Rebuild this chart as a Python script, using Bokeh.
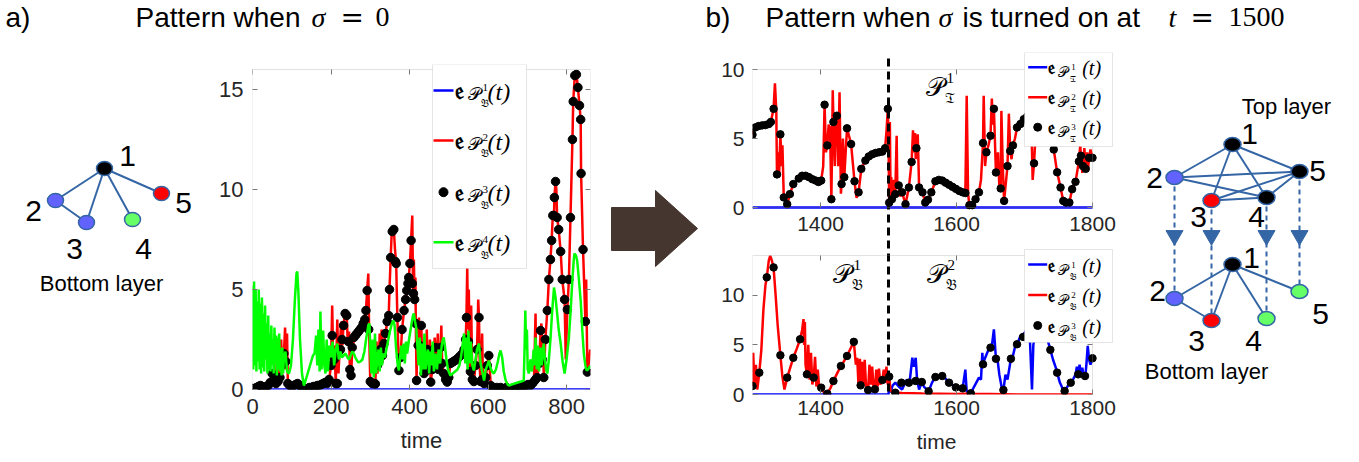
from bokeh.plotting import figure
from bokeh.layouts import row, column
from bokeh.models import Range1d, Label, BoxAnnotation, Arrow, FixedTicker, LinearAxis
from bokeh.embed import file_html
from bokeh.resources import INLINE

# ---------------- panel a data (time, value) ----------------
a_blue_pts = [(0, 0.0), (860, 0.0)]
a_dot_pts = [(0,0.05),(5,0.05),(10,0.1),(15,0.15),(20,0.2),(25,0.15),(30,0.1),(35,0.15),(40,0.2),(45,0.35),(50,0.8),(55,0.5),(60,0.3),(65,0.4),(70,0.6),(75,1.2),(80,1.8),(85,1.4),(90,0.3),(95,0.2),(100,0.15),(105,0.2),(110,0.25),(115,0.3),(120,0.2),(125,0.1),(130,0.05),(135,0.05),(140,0.05),(145,0.1),(150,0.1),(155,0.15),(160,0.15),(165,0.2),(170,0.2),(175,0.25),(180,0.3),(185,0.35),(190,0.3),(195,0.5),(200,1.2),(203,2.7),(208,1.5),(212,0.3),(216,0.3),(220,1.9),(224,2.0),(228,2.5),(232,3.2),(236,3.8),(240,3.7),(244,2.4),(248,1.0),(251,0.7),(254,2.1),(258,2.6),(262,2.7),(266,2.8),(270,2.9),(274,3.0),(278,3.1),(282,3.3),(286,3.5),(289,3.95),(292,4.95),(296,3.0),(300,0.4),(305,0.3),(310,0.3),(313,0.28),(318,1.2),(322,1.4),(326,2.0),(331,1.7),(335,2.3),(339,2.8),(343,3.4),(347,3.7),(349,5.0),(352,6.6),(356,7.9),(360,8.0),(364,6.4),(366,6.3),(369,3.6),(373,0.95),(377,1.6),(381,3.0),(386,3.95),(390,4.5),(393,4.95),(396,5.3),(398,5.6),(401,6.3),(404,7.45),(407,5.3),(410,4.8),(413,4.5),(416,3.3),(418,0.45),(422,2.2),(426,2.2),(430,3.2),(434,1.5),(437,0.8),(441,1.6),(445,2.0),(449,1.0),(454,0.37),(458,1.0),(462,1.6),(466,2.1),(470,1.5),(474,1.0),(479,2.1),(483,1.3),(487,0.8),(492,0.5),(496,0.37),(500,0.6),(504,1.3),(508,1.35),(512,1.4),(516,1.45),(520,1.5),(525,1.6),(530,1.7),(535,1.8),(539,2.0),(543,2.5),(545,3.6),(550,2.4),(555,0.9),(560,0.5),(564,0.4),(568,1.2),(572,2.0),(577,3.6),(581,0.4),(585,0.5),(590,0.3),(594,0.6),(598,1.2),(602,1.7),(607,0.2),(612,0.1),(617,0.05),(622,0.1),(627,0.05),(632,0.1),(637,0.05),(642,0.05),(647,0.1),(652,0.0),(657,0.0),(662,0.05),(667,0.05),(672,0.05),(677,0.1),(682,0.1),(687,0.15),(692,0.15),(697,0.2),(702,0.25),(708,0.2),(713,0.3),(717,0.4),(721,0.5),(725,0.6),(730,1.3),(734,2.95),(738,1.5),(742,0.6),(746,2.5),(751,3.95),(755,5.5),(759,6.5),(762,7.45),(765,8.7),(768,8.7),(769,9.6),(772,10.4),(776,8.6),(780,8.0),(785,6.9),(789,5.5),(795,4.5),(802,4.0),(806,5.5),(810,8.6),(815,12.5),(817,14.4),(821,15.7),(825,15.75),(829,15.1),(833,14.2),(836,13.5),(837,10.8),(842,7.0),(848,3.4),(853,0.87)]
a_red_pts = [(0,0.05),(20,0.1),(40,0.15),(50,0.8),(55,0.3),(60,0.5),(63,2.0),(66,0.4),(70,1.0),(73,2.5),(76,0.8),(80,1.8),(83,3.1),(86,1.0),(88,2.8),(90,0.3),(95,0.2),(110,0.25),(120,0.2),(140,0.05),(170,0.2),(190,0.3),(196,0.6),(200,1.2),(203,4.2),(206,1.0),(209,2.2),(212,0.3),(216,3.5),(219,0.8),(222,2.0),(226,3.4),(229,2.2),(232,3.3),(236,3.8),(240,3.7),(243,2.2),(246,2.9),(248,1.0),(251,0.5),(254,2.1),(262,2.7),(274,3.0),(286,3.5),(289,3.95),(292,4.95),(295,5.8),(297,3.0),(300,0.4),(305,0.3),(309,0.4),(313,0.28),(316,2.4),(318,0.8),(322,1.4),(324,2.8),(326,2.0),(329,3.0),(331,1.7),(335,2.3),(339,2.8),(343,3.4),(347,3.7),(349,5.0),(352,6.6),(355,8.0),(357,7.9),(360,8.0),(363,7.0),(366,6.3),(369,3.6),(373,0.95),(377,1.6),(381,3.0),(386,3.95),(390,4.5),(393,4.95),(396,5.3),(398,5.6),(401,6.3),(404,7.45),(407,8.7),(409,5.0),(411,6.5),(413,4.5),(415,5.6),(416,3.3),(418,0.45),(420,3.5),(422,2.2),(424,3.6),(426,2.2),(428,3.2),(430,3.2),(432,1.5),(434,0.8),(437,0.8),(441,1.6),(444,3.0),(445,2.0),(449,1.0),(452,2.5),(454,0.37),(458,1.0),(462,1.6),(464,2.6),(466,2.1),(470,1.5),(472,2.8),(474,1.0),(479,2.1),(481,3.2),(483,1.3),(487,0.8),(492,0.5),(496,0.37),(500,0.6),(504,1.3),(520,1.5),(535,1.8),(539,2.0),(543,2.5),(545,3.6),(547,6.1),(549,3.0),(551,5.0),(553,2.0),(555,0.9),(557,4.2),(560,0.5),(564,0.4),(568,1.2),(572,2.0),(575,4.5),(577,3.6),(579,1.0),(581,0.4),(585,2.8),(587,0.5),(590,0.3),(594,0.6),(598,1.2),(602,1.7),(607,0.2),(650,0.0),(700,0.2),(713,0.3),(717,0.4),(721,3.8),(723,0.5),(725,0.6),(730,1.3),(734,2.95),(736,3.3),(738,1.5),(740,2.7),(742,0.6),(746,2.5),(751,3.95),(755,5.5),(759,6.5),(762,7.45),(765,8.7),(768,8.7),(769,9.6),(772,10.4),(774,10.0),(776,8.6),(780,8.0),(785,6.9),(789,5.5),(795,4.5),(798,1.5),(802,4.0),(806,5.5),(810,8.6),(815,12.5),(817,14.4),(821,15.7),(823,15.9),(825,15.75),(829,15.1),(833,14.2),(836,13.5),(837,10.8),(842,7.0),(848,3.4),(850,5.5),(853,0.87),(856,1.2),(860,2.0)]
a_green_pts = [(0,5.2),(2,1.0),(4,5.4),(6,1.2),(8,5.0),(10,0.9),(12,4.4),(14,1.4),(16,5.0),(18,1.0),(20,4.3),(22,0.8),(24,4.6),(26,1.1),(28,3.8),(30,0.9),(32,4.2),(34,1.5),(36,3.3),(38,0.8),(40,3.7),(42,1.0),(44,2.8),(46,0.9),(48,3.2),(50,1.2),(52,2.5),(54,0.8),(56,3.1),(58,1.3),(60,2.7),(62,0.7),(64,2.6),(66,1.0),(68,2.8),(70,0.9),(72,2.0),(74,0.7),(76,2.1),(78,0.8),(80,1.6),(84,1.9),(88,0.9),(93,0.8),(98,1.2),(103,2.5),(108,4.5),(112,5.8),(114,5.9),(117,4.8),(121,2.5),(126,0.8),(131,0.2),(136,0.5),(142,0.9),(148,1.3),(154,1.7),(158,1.8),(162,2.7),(165,1.2),(168,3.0),(171,0.9),(173,3.9),(176,1.0),(180,2.95),(183,1.2),(186,0.8),(189,2.5),(192,0.9),(196,2.2),(200,1.6),(204,2.4),(208,1.2),(212,2.0),(216,2.3),(220,1.5),(224,1.9),(228,1.6),(232,1.7),(237,1.8),(242,1.6),(246,1.5),(250,1.7),(254,1.9),(258,1.8),(262,1.6),(266,1.45),(270,1.35),(275,1.4),(280,1.5),(285,1.9),(290,2.6),(295,3.2),(298,3.3),(300,2.0),(303,0.8),(306,2.5),(309,0.6),(312,2.8),(315,0.8),(318,1.6),(321,2.0),(324,0.9),(327,2.1),(330,1.2),(333,1.8),(337,1.6),(341,2.0),(346,2.5),(350,2.9),(355,3.3),(359,3.45),(362,3.2),(366,2.0),(370,1.2),(373,0.95),(376,1.6),(379,2.2),(382,1.5),(385,2.3),(388,1.3),(391,2.4),(394,1.8),(398,2.4),(402,2.9),(406,3.4),(409,3.7),(411,3.8),(414,3.4),(417,3.1),(420,2.2),(423,1.2),(426,2.6),(429,0.7),(432,2.3),(435,1.0),(438,2.8),(441,1.0),(444,1.6),(447,2.0),(450,0.8),(453,1.9),(456,1.2),(459,2.4),(462,0.9),(466,1.8),(470,1.0),(474,2.0),(478,1.3),(482,2.2),(485,2.5),(487,2.6),(490,2.2),(494,1.5),(498,1.0),(504,0.7),(510,0.8),(516,0.9),(522,1.0),(527,1.2),(531,1.6),(535,2.2),(539,2.8),(542,1.3),(545,2.6),(548,1.0),(550,2.95),(553,1.3),(556,2.4),(560,1.2),(564,0.95),(568,1.5),(572,2.0),(577,2.3),(581,1.3),(585,0.9),(590,0.45),(594,1.0),(598,1.2),(602,1.45),(606,1.1),(610,0.9),(615,0.8),(620,1.0),(625,1.4),(629,1.8),(632,1.95),(636,1.6),(640,0.9),(645,0.45),(650,0.25),(653,0.2),(660,0.25),(668,0.3),(676,0.35),(684,0.4),(691,0.45),(693,2.0),(695,3.95),(697,2.0),(699,3.0),(701,1.0),(704,0.8),(708,1.5),(712,0.9),(716,2.0),(719,1.2),(721,2.6),(724,1.0),(727,2.2),(730,0.9),(734,2.1),(737,1.2),(740,2.0),(742,2.3),(745,1.5),(748,1.0),(751,0.8),(755,1.5),(759,2.5),(763,3.8),(768,5.1),(772,4.6),(776,3.8),(780,3.0),(785,2.3),(790,1.4),(795,0.8),(800,1.5),(806,2.6),(810,3.8),(814,5.2),(818,6.4),(820,6.8),(824,6.7),(827,6.45),(831,5.6),(836,4.45),(840,3.0),(844,1.8),(848,1.2),(851,0.95),(855,1.0),(860,1.2)]

# ---------------- panel b, top layer ----------------
bt_blue_pts = [(1300, 0.0), (1800, 0.0)]
bt_dot_pts = [(1300,5.28),(1304,5.8),(1309,5.9),(1314,5.95),(1319,5.97),(1324,6.05),(1327,6.2),(1331,7.15),(1336,2.4),(1341,5.3),(1346,0.73),(1351,0.24),(1355,0.97),(1360,1.7),(1368,2.1),(1373,2.3),(1378,2.3),(1383,2.2),(1388,2.05),(1393,1.95),(1397,1.85),(1401,1.95),(1406,7.45),(1410,4.5),(1416,0.6),(1419,6.2),(1424,6.65),(1431,1.7),(1435,2.2),(1439,5.74),(1445,4.6),(1450,1.9),(1456,1.1),(1460,2.8),(1466,3.4),(1471,3.7),(1476,3.85),(1481,3.95),(1486,4.0),(1491,4.05),(1495,4.3),(1499,7.15),(1501,0.35),(1505,0.6),(1510,0.97),(1515,1.6),(1520,1.1),(1525,0.24),(1530,1.45),(1534,3.3),(1541,4.3),(1545,1.45),(1550,1.1),(1554,0.36),(1558,0.56),(1563,1.1),(1569,1.9),(1574,2.0),(1579,1.95),(1584,1.8),(1589,1.65),(1594,1.5),(1599,1.35),(1604,1.2),(1609,1.1),(1613,1.05),(1619,0.17),(1623,0.17),(1628,0.6),(1633,1.1),(1639,4.67),(1644,4.0),(1650,5.2),(1655,7.15),(1658,2.54),(1665,1.38),(1670,0.48),(1675,3.0),(1679,4.1),(1683,4.5),(1689,5.8),(1694,6.05),(1699,6.4),(1704,6.6),(1709,6.9),(1714,3.2),(1720,6.0),(1726,7.0),(1732,6.5),(1738,5.5),(1743,4.2),(1748,2.55),(1753,1.45),(1757,0.48),(1761,0.36),(1766,0.36),(1770,1.33),(1775,1.86),(1780,3.34),(1783,3.75),(1786,3.0),(1790,2.8),(1795,3.6),(1800,3.6)]
bt_red_pts = [(1300,5.28),(1304,5.8),(1324,6.05),(1327,6.2),(1331,7.15),(1333,9.0),(1335,7.0),(1336,2.4),(1338,4.0),(1339,2.2),(1341,5.3),(1343,3.0),(1344,4.5),(1346,0.73),(1351,0.24),(1355,0.97),(1360,1.7),(1368,2.1),(1378,2.3),(1393,1.95),(1401,1.95),(1404,3.0),(1406,7.45),(1408,4.0),(1410,4.5),(1412,6.0),(1414,5.8),(1416,0.6),(1418,8.5),(1419,6.2),(1421,3.0),(1422,5.8),(1424,6.65),(1426,3.0),(1428,8.35),(1430,1.0),(1431,1.7),(1433,5.0),(1435,2.2),(1437,4.0),(1439,5.74),(1445,4.6),(1450,1.9),(1453,0.7),(1456,1.1),(1460,2.8),(1466,3.4),(1481,3.95),(1491,4.05),(1495,4.3),(1497,5.5),(1499,7.15),(1500,5.0),(1501,0.35),(1502,6.2),(1503,1.0),(1504,2.2),(1505,0.6),(1507,2.0),(1508,0.5),(1510,0.97),(1512,5.2),(1513,1.5),(1515,1.6),(1517,0.8),(1520,1.1),(1525,0.24),(1530,1.45),(1534,3.3),(1536,5.6),(1538,4.0),(1539,5.4),(1540,3.5),(1541,4.3),(1543,5.3),(1545,1.45),(1550,1.1),(1554,0.36),(1558,0.56),(1563,1.1),(1569,1.9),(1574,2.0),(1584,1.8),(1594,1.5),(1604,1.2),(1613,1.05),(1615,8.1),(1617,1.0),(1619,0.17),(1623,0.17),(1628,0.6),(1633,1.1),(1636,2.0),(1639,4.67),(1640,8.1),(1642,3.0),(1644,4.0),(1647,4.5),(1650,5.2),(1652,7.9),(1653,6.0),(1655,7.15),(1658,2.54),(1661,4.0),(1663,1.5),(1665,1.38),(1666,7.0),(1668,3.0),(1670,0.48),(1673,2.0),(1675,3.0),(1677,6.8),(1679,4.1),(1681,3.5),(1683,4.5),(1686,5.0),(1689,5.8),(1694,6.05),(1699,6.4),(1704,6.6),(1709,6.9),(1711,4.2),(1712,2.0),(1714,3.2),(1716,5.0),(1720,6.0),(1726,7.0),(1732,6.5),(1738,5.5),(1743,4.2),(1748,2.55),(1753,1.45),(1757,0.48),(1761,0.36),(1766,0.36),(1770,1.33),(1775,1.86),(1780,3.34),(1782,4.5),(1783,3.75),(1785,2.5),(1786,3.0),(1788,4.3),(1790,2.8),(1792,4.0),(1793,2.6),(1795,3.6),(1797,4.2),(1800,3.6)]

# ---------------- panel b, bottom layer ----------------
bb_blue_pts = [(1300,0.0),(1500,0.0),(1501,0.86),(1503,0.2),(1506,0.9),(1510,1.2),(1515,0.8),(1520,0.5),(1524,1.1),(1527,1.5),(1531,1.2),(1535,3.7),(1537,2.8),(1538,3.0),(1540,3.7),(1542,1.5),(1545,0.5),(1549,1.26),(1552,0.8),(1555,0.6),(1559,0.32),(1564,1.2),(1569,1.76),(1574,1.85),(1579,1.86),(1584,1.6),(1589,1.19),(1594,0.95),(1599,0.72),(1604,0.65),(1609,0.62),(1613,2.5),(1615,0.3),(1619,0.2),(1621,0.12),(1626,0.8),(1633,1.7),(1636,1.5),(1638,4.2),(1639,3.04),(1641,3.5),(1644,4.0),(1647,4.5),(1650,4.72),(1652,4.9),(1655,6.56),(1658,3.6),(1660,3.7),(1663,2.0),(1667,0.5),(1669,0.45),(1672,2.0),(1675,1.5),(1680,3.6),(1683,3.9),(1687,5.06),(1689,5.06),(1694,5.9),(1698,6.0),(1703,6.5),(1708,5.5),(1711,0.5),(1713,5.0),(1718,7.0),(1724,7.5),(1730,6.5),(1736,5.0),(1742,3.5),(1746,2.7),(1748,2.2),(1752,1.2),(1756,0.6),(1759,0.35),(1763,0.8),(1768,1.19),(1772,1.6),(1775,2.0),(1777,2.8),(1779,2.03),(1781,3.0),(1783,2.0),(1785,2.7),(1787,1.8),(1789,1.5),(1791,3.0),(1793,4.9),(1795,3.5),(1797,3.0),(1800,3.65)]
bb_red_pts = [(1300,0.86),(1301,4.2),(1303,0.6),(1305,3.0),(1307,0.5),(1310,2.2),(1313,4.5),(1316,8.5),(1319,11.0),(1321,11.8),(1324,13.5),(1326,13.96),(1328,13.6),(1331,12.8),(1334,10.0),(1337,7.0),(1341,3.95),(1344,1.8),(1347,0.5),(1351,1.7),(1356,2.8),(1360,3.7),(1365,4.6),(1370,5.56),(1373,6.5),(1375,7.6),(1376,5.0),(1377,7.3),(1378,3.0),(1380,2.03),(1382,5.0),(1384,1.5),(1386,4.2),(1388,1.0),(1390,1.7),(1392,3.8),(1394,0.8),(1396,2.5),(1398,0.7),(1401,0.69),(1405,0.2),(1410,0.08),(1415,0.7),(1419,1.36),(1425,2.2),(1430,2.87),(1435,3.4),(1439,3.88),(1444,4.6),(1449,5.3),(1452,3.0),(1454,3.7),(1456,0.8),(1458,3.6),(1459,0.92),(1461,3.3),(1463,1.0),(1465,3.5),(1467,0.8),(1470,0.45),(1472,3.0),(1474,1.0),(1476,2.8),(1478,0.6),(1480,0.52),(1482,2.5),(1484,0.8),(1486,2.6),(1488,1.0),(1491,1.46),(1493,2.5),(1495,1.2),(1497,2.8),(1499,1.0),(1501,1.8),(1503,0.4),(1506,0.2),(1520,0.15),(1550,0.1),(1600,0.05),(1620,0.1),(1623,0.4),(1625,0.05),(1650,0.05),(1700,0.0),(1800,0.0)]
bb_dot_pts = [(1300,0.86),(1310,2.2),(1321,11.8),(1331,12.8),(1341,3.95),(1351,1.7),(1360,3.7),(1370,5.56),(1380,2.03),(1390,1.7),(1401,0.69),(1410,0.08),(1419,1.36),(1430,2.87),(1439,3.88),(1449,5.3),(1459,0.92),(1470,0.45),(1480,0.52),(1491,1.46),(1501,1.8),(1510,0.18),(1519,1.19),(1530,1.19),(1540,1.36),(1549,1.26),(1559,0.32),(1569,1.76),(1579,1.86),(1589,1.19),(1599,0.72),(1609,0.62),(1621,0.12),(1639,3.04),(1650,4.72),(1658,3.6),(1669,0.45),(1680,3.6),(1689,5.06),(1698,5.8),(1708,6.2),(1718,6.8),(1728,6.5),(1738,4.5),(1748,2.2),(1759,0.35),(1768,1.19),(1779,2.03),(1789,1.86),(1800,3.65)]

switch_time = 1500
a_xticks = [0, 200, 400, 600, 800]
a_yticks = [0, 5, 10, 15]
b_xticks = [1400, 1600, 1800]
b_yticks = [0, 5, 10]

# ---------------- network diagrams (screen layout positions) ----------------
netA_x = [104, 55, 86, 132, 161]
netA_y = [168, 200, 222, 219, 193]
netA_col = ["#000000", "#6262ff", "#6262ff", "#66ff66", "#ff0000"]
netA_lab_x = [127, 33, 74, 143, 183]
netA_lab_y = [155, 210, 248, 248, 202]
netA_edges = [(0, 1), (0, 2), (0, 3), (0, 4), (1, 2)]

top_x = [1232, 1174, 1211, 1266, 1299]
top_y = [144, 177, 200, 197, 171]
top_col = ["#000000", "#6262ff", "#ff0000", "#000000", "#000000"]
top_lab_x = [1249, 1154, 1198, 1256, 1317]
top_lab_y = [133, 177, 216, 216, 170]
top_edges = [(0, 1), (0, 2), (0, 3), (0, 4), (1, 4), (1, 3), (2, 3), (2, 4), (3, 4)]
bot_x = [1232, 1174, 1211, 1266, 1299]
bot_y = [264, 298, 320, 318, 291]
bot_col = ["#000000", "#6262ff", "#ff0000", "#66ff66", "#66ff66"]
bot_lab_x = [1251, 1157, 1196, 1253, 1320]
bot_lab_y = [257, 290, 340, 340, 313]
bot_edges = [(0, 1), (0, 2), (0, 3), (0, 4), (1, 2)]
node_labels = ["1", "2", "3", "4", "5"]

arrow_x = [611, 655, 655, 697, 655, 655, 611]
arrow_y = [207, 207, 190, 228, 266, 250, 250]

SANS = "Liberation Sans"
MATH = "DejaVu Serif"
CM = "Liberation Serif"
TXT = "#262626"
GRAY = "#a0a0a0"
EDGE = "#3465a4"
E_FRAK = "\U0001D522"
P_SCR = "\U0001D4AB"
B_FRAK = "\U0001D505"
T_FRAK = "\U0001D517"
PAGE_W = 1357
PAGE_H = 460
ROW_TOP = 52


def xs(pts):
    return [p[0] for p in pts]


def ys(pts):
    return [p[1] for p in pts]


def lab(p, x, y, text, size, font=SANS, style="normal", align="left",
        baseline="middle", color="#000000"):
    p.add_layout(Label(x=x, y=y, text=text, text_font=font,
                       text_font_size=f"{size}px", text_font_style=style,
                       text_align=align, text_baseline=baseline,
                       text_color=color))


def blank(width, height, x0, x1, y_bottom, y_top):
    p = figure(width=width, height=height, output_backend="svg",
               toolbar_location=None, x_range=Range1d(x0, x1),
               y_range=Range1d(y_bottom, y_top), min_border=0,
               min_border_left=0, min_border_right=0, min_border_top=0,
               min_border_bottom=0,
               x_axis_location=None, y_axis_location=None)
    p.xgrid.visible = False
    p.ygrid.visible = False
    p.outline_line_color = None
    return p


def style_axis(ax, fs, stand):
    ax.major_label_text_font = SANS
    ax.major_label_text_font_size = f"{fs}px"
    ax.major_label_text_color = TXT
    ax.axis_line_color = None
    ax.major_tick_in = 5
    ax.major_tick_out = 0
    ax.major_tick_line_color = "#777777"
    ax.minor_tick_line_color = None
    ax.major_label_standoff = stand
    ax.axis_label_text_font = SANS
    ax.axis_label_text_font_size = f"{fs}px"
    ax.axis_label_text_font_style = "normal"
    ax.axis_label_text_color = TXT


def box_ticks(p, place, loc, ticks, y_range_name="default"):
    """Unlabelled tick marks on the far edges of a MATLAB-style box."""
    ax = LinearAxis(fixed_location=loc, ticker=FixedTicker(ticks=ticks),
                    y_range_name=y_range_name)
    style_axis(ax, 10, 0)
    ax.major_label_overrides = {t: "" for t in ticks}
    p.add_layout(ax, place)


def mapper(frame, xr, yr):
    l, r, t, b = frame

    def fx(sx):
        return xr[0] + (sx - l) * (xr[1] - xr[0]) / (r - l)

    def fy(sy):
        return yr[0] + (b - sy) * (yr[1] - yr[0]) / (b - t)
    return fx, fy


def pterm(p, fx, fy, x, cy, sup, sub, g):
    lab(p, fx(x + g["p_dx"]), fy(cy + g["p_dy"]), P_SCR, g["p_fs"], font=MATH)
    lab(p, fx(x + g["sup_dx"]), fy(cy + g["sup_dy"]), sup, g["sup_fs"], font=CM)
    lab(p, fx(x + g["sub_dx"]), fy(cy + g["sub_dy"]), sub, g["sub_fs"], font=MATH)


def legend(p, fx, fy, box, x0, rows, kinds, colors, sups, sub, g):
    p.add_layout(BoxAnnotation(left=fx(box[0]), right=fx(box[1]), top=fy(box[2]),
                               bottom=fy(box[3]), fill_color="white", fill_alpha=1.0,
                               line_color="#a8a8a8", line_width=1))
    for cy, kind, col, sup in zip(rows, kinds, colors, sups):
        if kind == "line":
            p.add_layout(Arrow(end=None, x_start=fx(x0), y_start=fy(cy),
                               x_end=fx(x0 + g["ln"]), y_end=fy(cy),
                               line_color=col, line_width=2.5))
        else:
            p.scatter([fx(x0 + g["ln"] / 2)], [fy(cy)], size=g["dot"], color=col,
                      level="overlay")
        lab(p, fx(x0 + g["e_dx"]), fy(cy), E_FRAK, g["e_fs"], font=MATH, style="bold")
        pterm(p, fx, fy, x0, cy, sup, sub, g)
        lab(p, fx(x0 + g["t_dx"]), fy(cy + 1), "(t)", g["t_fs"], font=CM, style="italic")


def frame_box(p, left, right, bottom, top, y_range_name="default"):
    p.add_layout(BoxAnnotation(left=left, right=right, bottom=bottom, top=top,
                               fill_color=None, fill_alpha=0, line_color=GRAY,
                               line_width=1, y_range_name=y_range_name))


# ---------------- title row ----------------
TITLE_Y = 16.5
title = blank(PAGE_W, ROW_TOP, 0, PAGE_W, ROW_TOP, 0)
lab(title, 5, TITLE_Y, "a)", 28)
lab(title, 135, TITLE_Y, "Pattern when", 28)
lab(title, 311, TITLE_Y, "\u03c3", 28, font=CM, style="italic")
lab(title, 340, TITLE_Y, "=", 28, font=MATH)
lab(title, 375, TITLE_Y, "0", 28, font=CM)
lab(title, 705, TITLE_Y, "b)", 28)
lab(title, 765, TITLE_Y, "Pattern when", 28)
lab(title, 938, TITLE_Y, "\u03c3", 28, font=CM, style="italic")
lab(title, 962, TITLE_Y, "is turned on at", 28)
lab(title, 1168, TITLE_Y, "t", 28, font=CM, style="italic")
lab(title, 1190, TITLE_Y, "=", 28, font=MATH)
lab(title, 1228, TITLE_Y, "1500", 28, font=CM)

ROW_H = PAGE_H - ROW_TOP

# ---------------- left network ----------------
na = blank(205, ROW_H, 0, 205, PAGE_H, ROW_TOP)
na.segment([netA_x[i] for i, j in netA_edges], [netA_y[i] for i, j in netA_edges],
           [netA_x[j] for i, j in netA_edges], [netA_y[j] for i, j in netA_edges],
           line_color=EDGE, line_width=2)
na.ellipse(netA_x, netA_y, width=16, height=14, fill_color=netA_col, line_color=EDGE,
           line_width=1.5)
for k in range(5):
    lab(na, netA_lab_x[k], netA_lab_y[k], node_labels[k], 30, align="center")
lab(na, 101, 283, "Bottom layer", 22, align="center")

# ---------------- panel a plot ----------------
A_FRAME = (252, 590, 64, 389)
A_XR = (0, 861)
A_YR = (0, 16.25)
pa = figure(width=395, height=ROW_H, output_backend="svg", toolbar_location=None,
            x_range=Range1d(*A_XR), y_range=Range1d(*A_YR),
            min_border_left=47, min_border_right=10, min_border_top=A_FRAME[2] - ROW_TOP,
            min_border_bottom=PAGE_H - A_FRAME[3])
pa.xgrid.visible = False
pa.ygrid.visible = False
pa.outline_line_color = None
pa.xaxis.ticker = FixedTicker(ticks=a_xticks)
pa.yaxis.ticker = FixedTicker(ticks=a_yticks)
style_axis(pa.xaxis[0], 22, 9)
style_axis(pa.yaxis[0], 22, 9)
pa.xaxis.axis_label = "time"
pa.xaxis.axis_label_standoff = 11
box_ticks(pa, "above", 16, a_xticks)
box_ticks(pa, "right", 861, a_yticks)
pa.line(xs(a_blue_pts), ys(a_blue_pts), line_color="#0000ff", line_width=2.5)
pa.line(xs(a_red_pts), ys(a_red_pts), line_color="#ff0000", line_width=2.5)
pa.scatter(xs(a_dot_pts), ys(a_dot_pts), size=8.5, color="black")
pa.line(xs(a_green_pts), ys(a_green_pts), line_color="#00ff00", line_width=2.5)
frame_box(pa, 0, 861, 0, 16)
fxa, fya = mapper(A_FRAME, A_XR, A_YR)
ga = dict(ln=20, dot=9, e_dx=21, e_fs=24, p_dx=34, p_dy=3, p_fs=18, sup_dx=49, sup_dy=-3,
          sup_fs=11, sub_dx=47, sub_dy=13, sub_fs=11, t_dx=54, t_fs=24)
legend(pa, fxa, fya, (432, 526, 64, 268), 433, [90, 140, 191.7, 241.7],
       ["line", "line", "dot", "line"], ["#0000ff", "#ff0000", "#000000", "#00ff00"],
       ["1", "2", "3", "4"], B_FRAK, ga)

# ---------------- big arrow ----------------
ar = blank(100, ROW_H, 600, 700, PAGE_H, ROW_TOP)
ar.patch(arrow_x, arrow_y, fill_color="#45362f", line_color="#45362f")

# ---------------- panel b (both layers share one frame) ----------------
B_FRAME = (752, 1120, 52, 394)
B_PLOT_RIGHT = 1092
TOP_ZERO, TOP_PX = 207, 13.8
BOT_ZERO, BOT_PX = 394, 9.93
B_XR = (1300, 1800 + (B_FRAME[1] - B_PLOT_RIGHT) * 500 / (B_PLOT_RIGHT - B_FRAME[0]))
B_YR = (-(B_FRAME[3] - TOP_ZERO) / TOP_PX, (TOP_ZERO - B_FRAME[2]) / TOP_PX)
BOT_YR = (0, (BOT_ZERO - B_FRAME[2]) / BOT_PX)
fxb, fyb = mapper(B_FRAME, B_XR, B_YR)

pb = figure(width=420, height=ROW_H, output_backend="svg", toolbar_location=None,
            x_range=Range1d(*B_XR), y_range=Range1d(*B_YR),
            min_border_left=B_FRAME[0] - 700, min_border_right=1120 - B_FRAME[1],
            min_border_top=B_FRAME[2] - ROW_TOP, min_border_bottom=PAGE_H - B_FRAME[3])
pb.extra_y_ranges = {"bot": Range1d(*BOT_YR)}
pb.xgrid.visible = False
pb.ygrid.visible = False
pb.outline_line_color = None
bot_tick_pos = [B_YR[0] + v * BOT_PX / TOP_PX + 1e-9 for v in b_yticks]
pb.yaxis.ticker = FixedTicker(ticks=bot_tick_pos + b_yticks)
pb.yaxis.major_label_overrides = {t: str(v) for t, v in zip(bot_tick_pos, b_yticks)}
style_axis(pb.yaxis[0], 21, 8)
pb.xaxis.ticker = FixedTicker(ticks=b_xticks)
style_axis(pb.xaxis[0], 21, 6)
pb.xaxis[0].axis_label = "time"
pb.xaxis[0].axis_label_standoff = 12
top_axis = LinearAxis(fixed_location=0, ticker=FixedTicker(ticks=b_xticks))
style_axis(top_axis, 21, 9)
pb.add_layout(top_axis, "below")
box_ticks(pb, "above", 10, b_xticks)
box_ticks(pb, "above", 14, b_xticks, y_range_name="bot")
box_ticks(pb, "right", 1800, b_yticks)
box_ticks(pb, "right", 1800, b_yticks, y_range_name="bot")

pb.line(xs(bt_blue_pts), ys(bt_blue_pts), line_color="#0000ff", line_width=2.5)
pb.line(xs(bt_red_pts), ys(bt_red_pts), line_color="#ff0000", line_width=2.5)
pb.scatter(xs(bt_dot_pts), ys(bt_dot_pts), size=7.5, color="black")
pb.line(xs(bb_blue_pts), ys(bb_blue_pts), line_color="#0000ff", line_width=2.5,
        y_range_name="bot")
pb.line(xs(bb_red_pts), ys(bb_red_pts), line_color="#ff0000", line_width=2.5,
        y_range_name="bot")
pb.scatter(xs(bb_dot_pts), ys(bb_dot_pts), size=7.5, color="black", y_range_name="bot")
pb.segment([switch_time], [fyb(58)], [switch_time], [fyb(BOT_ZERO)], line_color="black",
           line_width=3, line_dash="8 5")
frame_box(pb, 1300, 1800, 0, 10)
frame_box(pb, 1300, 1800, 0, 14, y_range_name="bot")

gb = dict(ln=19, dot=8, e_dx=19.5, e_fs=19, p_dx=30, p_dy=5, p_fs=14, sup_dx=43, sup_dy=0,
          sup_fs=9, sub_dx=42, sub_dy=12, sub_fs=9, t_dx=54, t_fs=20)
gp = dict(p_dx=0, p_dy=0, p_fs=26, sup_dx=21, sup_dy=-9, sup_fs=15, sub_dx=19, sub_dy=11,
          sub_fs=15)
pterm(pb, fxb, fyb, 925, 86, "1", T_FRAK, gp)
pterm(pb, fxb, fyb, 832, 273, "1", B_FRAK, gp)
pterm(pb, fxb, fyb, 926, 273, "2", B_FRAK, gp)
legend(pb, fxb, fyb, (1024, 1112, 52, 146), 1027.7, [66.7, 96.7, 126.7],
       ["line", "line", "dot"], ["#0000ff", "#ff0000", "#000000"], ["1", "2", "3"], T_FRAK, gb)
legend(pb, fxb, fyb, (1024, 1112, 249, 342), 1027.7, [264, 294.5, 325],
       ["line", "line", "dot"], ["#0000ff", "#ff0000", "#000000"], ["1", "2", "3"], B_FRAK, gb)

# ---------------- right network ----------------
nb = blank(PAGE_W - 1120, ROW_H, 1120, PAGE_W, PAGE_H, ROW_TOP)
nb.segment([top_x[i] for i, j in top_edges], [top_y[i] for i, j in top_edges],
           [top_x[j] for i, j in top_edges], [top_y[j] for i, j in top_edges],
           line_color=EDGE, line_width=2)
nb.segment([bot_x[i] for i, j in bot_edges], [bot_y[i] for i, j in bot_edges],
           [bot_x[j] for i, j in bot_edges], [bot_y[j] for i, j in bot_edges],
           line_color=EDGE, line_width=2)
nb.segment(top_x[1:], top_y[1:], bot_x[1:], bot_y[1:], line_color=EDGE, line_width=2,
           line_dash="5 4")
nb.scatter(top_x[1:], [235] * 4, marker="inverted_triangle", size=17, color=EDGE)
nb.ellipse(top_x, top_y, width=17, height=14, fill_color=top_col, line_color=EDGE,
           line_width=1.5)
nb.ellipse(bot_x, bot_y, width=17, height=14, fill_color=bot_col, line_color=EDGE,
           line_width=1.5)
for k in range(5):
    lab(nb, top_lab_x[k], top_lab_y[k], node_labels[k], 30, align="center")
    lab(nb, bot_lab_x[k], bot_lab_y[k], node_labels[k], 30, align="center")
lab(nb, 1286, 106, "Top layer", 22, align="center")
lab(nb, 1206, 371, "Bottom layer", 22, align="center")

layout = column(title, row(column(na), column(pa), column(ar), column(pb), column(nb)))

with open("out.html", "w") as f:
    f.write(file_html(layout, INLINE))
